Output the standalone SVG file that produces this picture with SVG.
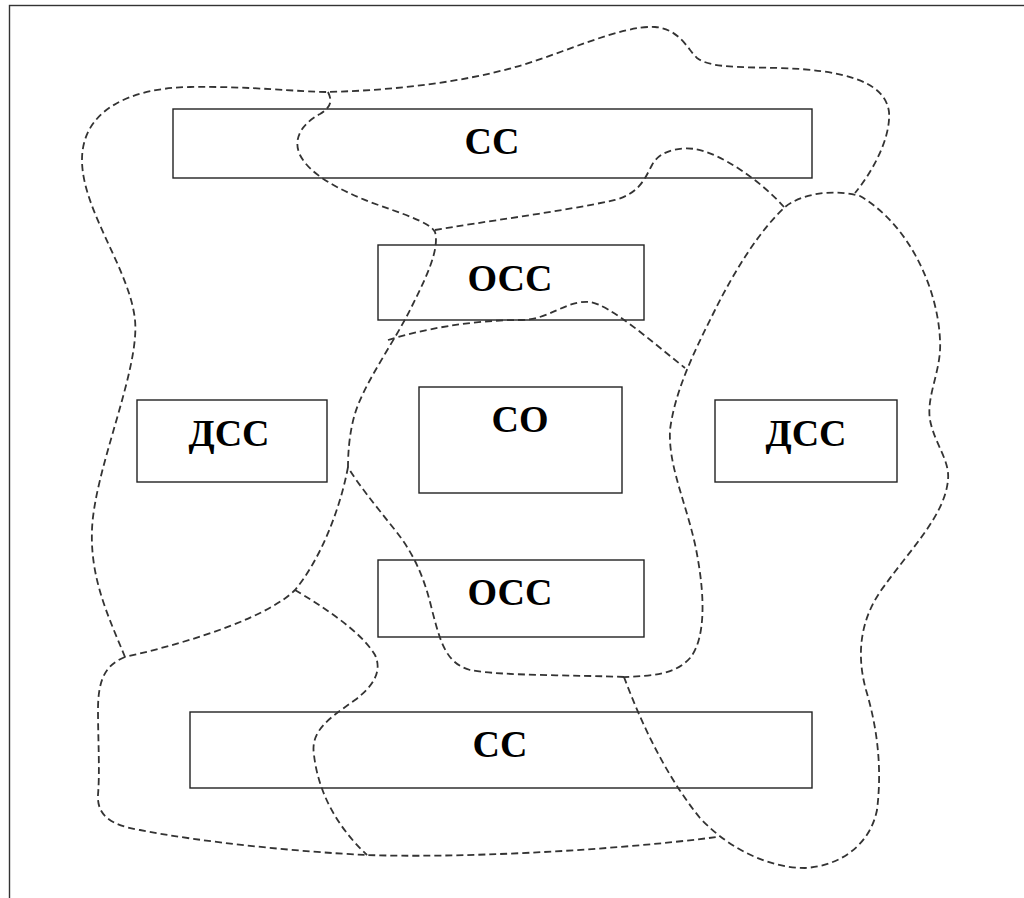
<svg xmlns="http://www.w3.org/2000/svg" width="1024" height="898" viewBox="0 0 1024 898">
<style>
.box{fill:#fff;stroke:#222;stroke-width:1.4}
.lbl{font-family:"Liberation Serif","Times New Roman",serif;font-weight:bold;font-size:38px;fill:#000;text-anchor:middle}
.dash{fill:none;stroke:#333;stroke-width:1.8;stroke-dasharray:7,4}
</style>
<rect x="0" y="0" width="1024" height="898" fill="#fff"/>
<rect x="9.5" y="5.5" width="1030" height="910" fill="none" stroke="#333" stroke-width="1.4"/>
<g id="nodes">
<g id="cc-top"><rect class="box" x="173" y="109" width="639" height="69"/><text class="lbl" x="492" y="154">СС</text></g>
<g id="occ-top"><rect class="box" x="378" y="245" width="266" height="75"/><text class="lbl" x="510" y="291">ОСС</text></g>
<g id="dcc-left"><rect class="box" x="137" y="400" width="190" height="82"/><text class="lbl" x="229" y="446">ДСС</text></g>
<g id="co"><rect class="box" x="419" y="387" width="203" height="106"/><text class="lbl" x="520" y="432">СО</text></g>
<g id="dcc-right"><rect class="box" x="715" y="400" width="182" height="82"/><text class="lbl" x="806" y="446">ДСС</text></g>
<g id="occ-bottom"><rect class="box" x="378" y="560" width="266" height="77"/><text class="lbl" x="510" y="605">ОСС</text></g>
<g id="cc-bottom"><rect class="box" x="190" y="712" width="622" height="76"/><text class="lbl" x="500" y="757">СС</text></g>
</g>
<g id="connectors">
<path class="dash" d="M125,657 C110,620 90,580 92,530 C94,470 140,370 135,320 C130,270 82,210 82,160 C82,110 130,88 190,87 C250,86 300,92 328,92 C400,90 460,82 512,68 C560,55 620,25 655,27 C680,29 688,50 697,58 C710,68 740,67 780,68 C840,70 885,80 889,112 C891,140 870,175 855,193"/>
<path class="dash" d="M328,92 C333,102 330,108 320,114 C300,125 293,140 300,155 C310,175 340,190 370,202 C400,213 430,222 435,232 C440,250 425,280 410,310 C395,340 370,375 358,405 C350,425 348,450 348,467"/>
<path class="dash" d="M435,230 C480,222 560,212 615,200 C640,193 645,178 652,165 C660,150 680,147 695,149 C720,153 760,180 784,207"/>
<path class="dash" d="M624,677 C640,720 665,775 700,818 C730,850 770,868 805,868 C840,866 870,845 877,810 C882,770 878,730 866,690 C855,650 862,615 885,585 C910,550 945,515 948,480 C950,460 935,445 930,420 C926,395 942,370 940,340 C938,290 910,225 860,196 C830,188 800,195 785,207 C760,230 735,270 715,310 C695,350 675,390 670,430 C668,470 690,510 698,560 C705,600 705,640 690,658 C675,675 650,676 624,677 Z"/>
<path class="dash" d="M348,467 C340,510 320,560 295,590 C270,615 200,640 125,657"/>
<path class="dash" d="M125,657 C105,665 98,680 98,710 C98,740 100,770 98,795 C97,815 110,825 140,830 C200,842 300,852 367,855 C450,858 600,852 717,837"/>
<path class="dash" d="M388,340 C420,330 470,320 520,320 C550,320 565,300 590,302 C610,305 650,340 685,368"/>
<path class="dash" d="M624,677 C580,675 500,676 470,670 C445,663 440,640 432,610 C425,580 415,555 395,530 C375,505 355,480 348,467"/>
<path class="dash" d="M295,590 C320,605 360,630 375,655 C382,670 375,685 355,700 C330,718 310,730 314,755 C318,790 335,825 367,855"/>
</g>
</svg>
